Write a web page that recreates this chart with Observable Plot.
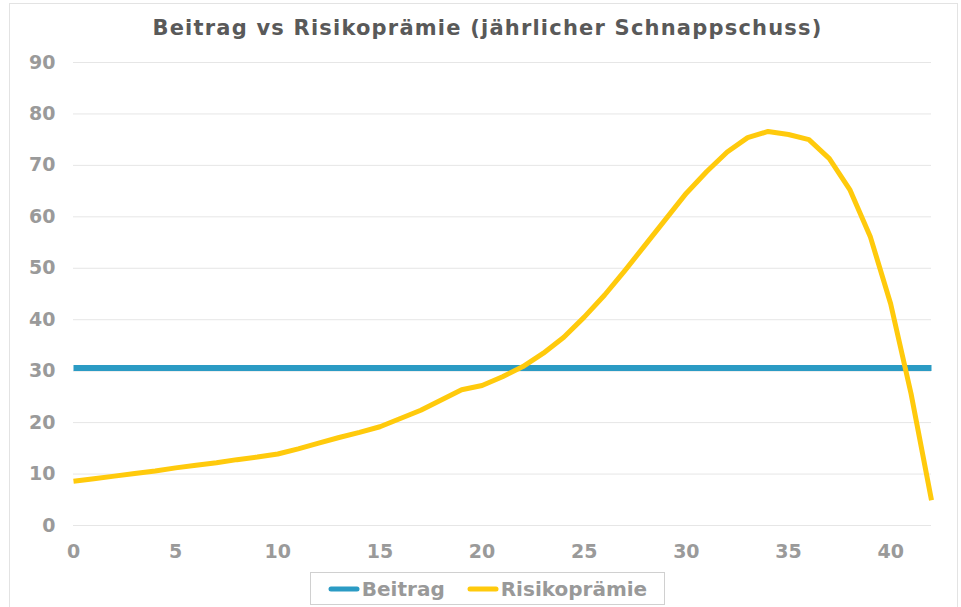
<!DOCTYPE html>
<html>
<head>
<meta charset="utf-8">
<script src="https://cdn.jsdelivr.net/npm/d3@7"></script>
<script src="https://cdn.jsdelivr.net/npm/@observablehq/plot@0.6"></script>
<style>
  body { margin: 0; background: #fff; }
  #wrap { position: relative; width: 961px; height: 607px; overflow: hidden; font-family: "DejaVu Sans", Verdana, sans-serif; }
  #frame { position: absolute; left: 9px; top: 3px; width: 949px; height: 640px; border: 1px solid #e3e3e3; box-sizing: border-box; }
  #title { position: absolute; left: 0; top: 16px; width: 975px; text-align: center; font-family: "DejaVu Sans", Verdana, sans-serif; font-weight: bold; font-size: 21px; letter-spacing: 1.2px; color: #595959; }
  #chart { position: absolute; left: 0; top: 45px; }
  #legend { position: absolute; left: 310px; top: 572px; width: 355px; height: 33px; border: 1px solid #d0d0d0; box-sizing: border-box; display: flex; align-items: center; justify-content: center; gap: 22px; font-weight: bold; font-size: 20px; color: #999; }
  .item { display: flex; align-items: center; }
  .item svg { margin-right: 2px; }
</style>
</head>
<body>
<div id="wrap">
  <div id="frame"></div>
  <div id="title"></div>
  <div id="chart"></div>
  <div id="legend"></div>
</div>
<script>
const titleText = "Beitrag vs Risikoprämie (jährlicher Schnappschuss)";
const seriesNames = ["Beitrag", "Risikoprämie"];
const seriesColors = ["#2b9bc4", "#ffca0c"];
const years = [0,1,2,3,4,5,6,7,8,9,10,11,12,13,14,15,16,17,18,19,20,21,22,23,24,25,26,27,28,29,30,31,32,33,34,35,36,37,38,39,40,41,42];
const beitrag = [30.6,30.6,30.6,30.6,30.6,30.6,30.6,30.6,30.6,30.6,30.6,30.6,30.6,30.6,30.6,30.6,30.6,30.6,30.6,30.6,30.6,30.6,30.6,30.6,30.6,30.6,30.6,30.6,30.6,30.6,30.6,30.6,30.6,30.6,30.6,30.6,30.6,30.6,30.6,30.6,30.6,30.6,30.6];
const risikopraemie = [8.6,9.1,9.6,10.1,10.6,11.2,11.7,12.2,12.8,13.3,13.9,14.9,16.0,17.1,18.1,19.2,20.8,22.4,24.4,26.4,27.2,28.9,30.9,33.5,36.6,40.5,44.8,49.6,54.6,59.6,64.6,68.8,72.6,75.4,76.6,76.0,75.0,71.3,65.3,56.2,43.1,25.6,4.9];
const xTicks = [0,5,10,15,20,25,30,35,40];
const yTicks = [0,10,20,30,40,50,60,70,80,90];

document.getElementById("title").textContent = titleText;

const rowsB = years.map((x, i) => ({x, y: beitrag[i]}));
const rowsR = years.map((x, i) => ({x, y: risikopraemie[i]}));

const chart = Plot.plot({
  width: 961,
  height: 520,
  marginLeft: 73,
  marginRight: 30,
  marginTop: 17,
  marginBottom: 40,
  style: { fontFamily: "DejaVu Sans, Verdana, sans-serif", fontWeight: "bold", fontSize: "19px", color: "#9a9a9a", background: "transparent" },
  x: { domain: [0, 42], label: null },
  y: { domain: [0, 90], label: null },
  marks: [
    Plot.gridY(yTicks, { stroke: "#e6e6e6", strokeOpacity: 1, strokeWidth: 1 }),
    Plot.axisY(yTicks, { tickSize: 0, tickPadding: 18, label: null, fill: "#9a9a9a" }),
    Plot.axisX(xTicks, { tickSize: 0, tickPadding: 19, label: null, fill: "#9a9a9a" }),
    Plot.line(rowsB, { x: "x", y: "y", stroke: seriesColors[0], strokeWidth: 6, strokeLinecap: "butt", strokeLinejoin: "miter" }),
    Plot.line(rowsR, { x: "x", y: "y", stroke: seriesColors[1], strokeWidth: 5, strokeLinejoin: "round", strokeLinecap: "butt" })
  ]
});
document.getElementById("chart").appendChild(chart);

const legend = document.getElementById("legend");
seriesNames.forEach((name, i) => {
  const item = document.createElement("div");
  item.className = "item";
  item.innerHTML = `<svg width="32" height="10"><line x1="3" y1="5" x2="29" y2="5" stroke="${seriesColors[i]}" stroke-width="5" stroke-linecap="round"/></svg><span>${name}</span>`;
  legend.appendChild(item);
});
</script>
</body>
</html>
